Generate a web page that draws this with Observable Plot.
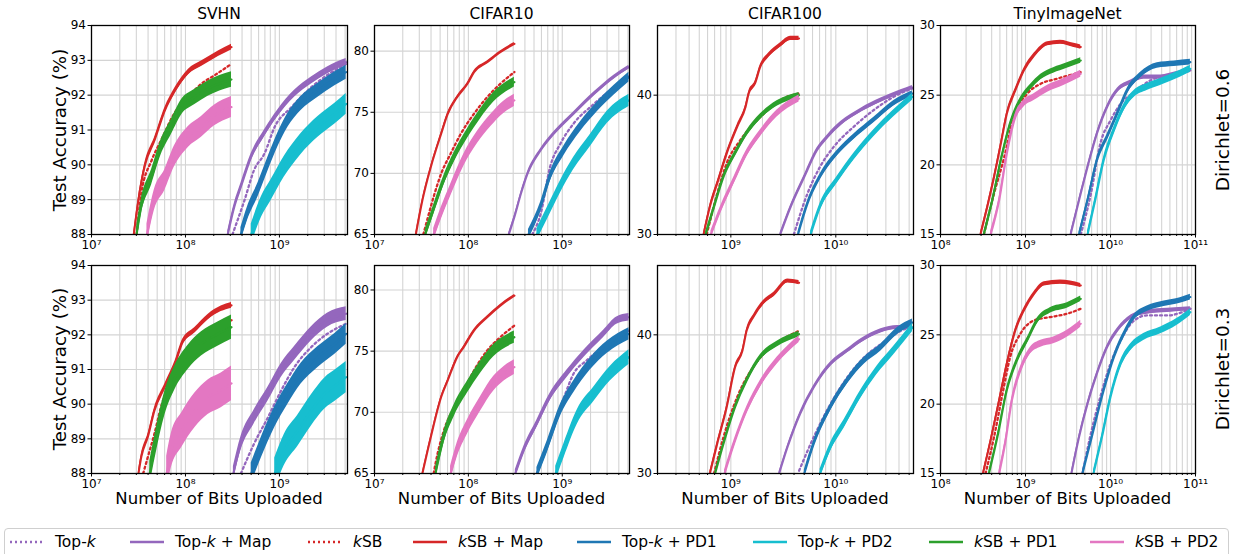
<!DOCTYPE html>
<html><head><meta charset="utf-8">
<script src="https://cdn.jsdelivr.net/npm/d3@7"></script>
<script src="https://cdn.jsdelivr.net/npm/@observablehq/plot@0.6"></script>
<style>
body{margin:0;background:#fff;font-family:"DejaVu Sans",sans-serif;}
#fig{position:relative;width:1235px;height:554px;overflow:hidden;background:#fff;}
.abs{position:absolute;white-space:nowrap;line-height:1;color:#000;}
.c{transform:translate(-50%,-50%);}
.rot{transform:translate(-50%,-50%) rotate(-90deg);}
.pan{position:absolute;}
#legend{position:absolute;left:4px;top:528px;width:1225px;height:40px;border:1px solid #cfcfcf;border-radius:4px;box-sizing:border-box;font-size:15.5px;}
#legend .it{position:absolute;top:4px;display:flex;align-items:center;gap:11px;height:18px;white-space:nowrap;}
</style></head>
<body><div id="fig"><div id="legend"></div></div>
<script>
// ---------- labels ----------
const methods = ["Top-k", "Top-k + Map", "kSB", "kSB + Map", "Top-k + PD1", "Top-k + PD2", "kSB + PD1", "kSB + PD2"];
const methodLabels = ["Top-<i>k</i>", "Top-<i>k</i> + Map", "<i>k</i>SB", "<i>k</i>SB + Map", "Top-<i>k</i> + PD1", "Top-<i>k</i> + PD2", "<i>k</i>SB + PD1", "<i>k</i>SB + PD2"];
const colors = ["#9467bd", "#9467bd", "#d62728", "#d62728", "#1f77b4", "#17becf", "#2ca02c", "#e377c2"];
const dotted = [true, false, true, false, false, false, false, false];
const datasets = ["SVHN", "CIFAR10", "CIFAR100", "TinyImageNet"];
const rowLabels = ["Dirichlet=0.6", "Dirichlet=0.3"];

// axis settings per dataset
const xDomains = [[1e7, 5.3e9], [1e7, 5.2e9], [2e8, 5.5e10], [1e8, 1e11]];
const xTicks = [[1e7, 1e8, 1e9], [1e7, 1e8, 1e9], [1e9, 1e10], [1e8, 1e9, 1e10, 1e11]];
const yDomainsRow1 = [[88, 94], [65, 82.1], [30, 45], [15, 30]];
const yDomainsRow2 = [[88, 94], [65, 82], [30, 45], [15, 30]];
const yTicks = [[88, 89, 90, 91, 92, 93, 94], [65, 70, 75, 80], [30, 40], [15, 20, 25, 30]];

// ---------- data: each series is [log10(bits uploaded), test accuracy %] ----------
// series order follows `methods`
const svhn06 = [
  [[8.50,88.0],[8.63,89.0],[8.73,89.85],[8.84,90.32],[8.95,91.09],[9.13,91.66],[9.34,92.23],[9.71,92.9]],
  [[8.45,88.0],[8.52,88.8],[8.59,89.37],[8.70,90.23],[8.84,90.9],[8.98,91.47],[9.16,92.04],[9.34,92.42],[9.51,92.71],[9.71,92.95]],
  [[7.48,88.0],[7.53,89.18],[7.64,90.13],[7.74,90.7],[7.88,91.47],[8.03,91.95],[8.17,92.33],[8.31,92.57],[8.49,92.9]],
  [[7.45,88.0],[7.50,89.0],[7.57,90.0],[7.67,90.7],[7.78,91.56],[7.89,92.14],[8.03,92.66],[8.17,92.9],[8.35,93.19],[8.49,93.38]],
  [[8.59,88.0],[8.66,88.6],[8.77,89.27],[8.88,90.04],[8.98,90.7],[9.09,91.28],[9.23,91.76],[9.41,92.14],[9.59,92.47],[9.71,92.66]],
  [[8.70,88.0],[8.81,88.8],[8.91,89.27],[9.05,89.94],[9.23,90.6],[9.41,91.09],[9.59,91.47],[9.71,91.75]],
  [[7.48,88.0],[7.53,88.8],[7.64,89.65],[7.74,90.5],[7.85,91.09],[7.96,91.66],[8.10,91.95],[8.24,92.19],[8.49,92.45]],
  [[7.59,88.0],[7.67,89.0],[7.78,89.56],[7.88,90.23],[8.03,90.8],[8.17,91.09],[8.31,91.42],[8.49,91.66]]
];
const cifar10_06 = [
  [[8.68,65.0],[8.77,66.7],[8.87,70.53],[8.98,72.43],[9.12,74.07],[9.34,75.7],[9.55,77.06],[9.71,78.0]],
  [[8.43,65.0],[8.49,66.44],[8.56,68.35],[8.63,69.98],[8.77,71.89],[8.91,73.25],[9.12,74.88],[9.34,76.52],[9.55,77.88],[9.71,78.69]],
  [[7.52,65.0],[7.57,66.44],[7.64,68.35],[7.71,69.98],[7.81,71.6],[7.92,73.25],[8.06,74.88],[8.20,76.24],[8.34,77.33],[8.49,78.29]],
  [[7.44,65.0],[7.51,67.8],[7.60,70.53],[7.71,73.25],[7.78,74.88],[7.88,76.24],[7.99,77.33],[8.06,78.29],[8.20,79.1],[8.34,79.92],[8.49,80.6]],
  [[8.64,65.0],[8.77,67.26],[8.87,69.71],[9.02,71.89],[9.19,73.79],[9.37,75.43],[9.55,76.79],[9.71,77.88]],
  [[8.73,65.0],[8.84,66.7],[8.98,68.9],[9.12,70.8],[9.30,72.7],[9.48,74.6],[9.71,75.97]],
  [[7.54,65.0],[7.64,67.26],[7.74,69.44],[7.85,71.34],[7.99,73.25],[8.13,74.88],[8.27,76.24],[8.49,77.47]],
  [[7.63,65.0],[7.71,66.7],[7.81,68.6],[7.95,71.07],[8.10,72.98],[8.24,74.34],[8.38,75.43],[8.49,75.97]]
];
const cifar100_06 = [
  [[9.60,30.0],[9.73,32.94],[9.85,34.86],[9.98,36.29],[10.17,37.73],[10.36,38.92],[10.55,39.88],[10.73,40.48]],
  [[9.47,30.0],[9.57,31.99],[9.70,34.14],[9.82,36.05],[9.92,37.0],[10.05,37.97],[10.24,38.92],[10.43,39.64],[10.62,40.24],[10.73,40.55]],
  [[8.77,30.0],[8.87,32.94],[8.96,35.1],[9.09,36.77],[9.22,37.97],[9.35,38.92],[9.50,39.76],[9.65,40.12]],
  [[8.74,30.0],[8.80,31.99],[8.88,33.9],[8.96,35.81],[9.06,37.73],[9.14,39.16],[9.17,40.12],[9.23,40.84],[9.28,42.03],[9.36,42.87],[9.47,43.59],[9.57,44.07],[9.65,44.07]],
  [[9.64,30.0],[9.73,32.22],[9.85,34.14],[10.01,35.81],[10.17,37.0],[10.36,38.2],[10.55,39.4],[10.73,40.12]],
  [[9.76,30.0],[9.85,31.99],[10.01,33.9],[10.17,35.57],[10.36,37.25],[10.55,38.68],[10.73,39.88]],
  [[8.76,30.0],[8.84,31.99],[8.93,34.14],[9.04,35.81],[9.15,37.25],[9.28,38.44],[9.44,39.4],[9.65,40.0]],
  [[8.81,30.0],[8.90,31.75],[9.03,33.9],[9.15,35.81],[9.28,37.25],[9.44,38.68],[9.65,39.76]]
];
const tiny06 = [
  [[9.65,15.0],[9.77,17.94],[9.88,21.52],[10.0,23.19],[10.12,24.39],[10.28,25.22],[10.47,26.06],[10.67,26.42],[10.94,26.89]],
  [[9.53,15.0],[9.63,17.46],[9.73,19.85],[9.84,22.24],[9.96,24.15],[10.08,25.34],[10.24,25.94],[10.39,26.3],[10.59,26.3],[10.78,26.54],[10.94,26.77]],
  [[8.51,15.0],[8.63,17.94],[8.75,20.56],[8.86,23.43],[9.02,25.1],[9.18,25.82],[9.37,26.18],[9.65,26.65]],
  [[8.47,15.0],[8.55,16.98],[8.63,19.13],[8.71,21.52],[8.78,23.67],[8.88,25.34],[8.98,26.77],[9.10,27.85],[9.26,28.69],[9.41,28.8],[9.57,28.57],[9.65,28.45]],
  [[9.63,15.0],[9.73,17.46],[9.84,20.33],[9.96,22.0],[10.08,23.67],[10.20,25.34],[10.35,26.42],[10.55,27.13],[10.75,27.25],[10.94,27.37]],
  [[9.73,15.0],[9.82,17.46],[9.92,20.33],[10.04,22.48],[10.16,24.15],[10.28,25.1],[10.43,25.58],[10.63,26.06],[10.82,26.54],[10.94,26.89]],
  [[8.51,15.0],[8.61,17.46],[8.71,20.33],[8.82,22.95],[8.94,24.63],[9.06,25.58],[9.18,26.3],[9.33,26.77],[9.49,27.13],[9.65,27.49]],
  [[8.59,15.0],[8.69,17.46],[8.78,20.8],[8.88,23.43],[8.98,24.39],[9.10,24.86],[9.26,25.46],[9.45,25.94],[9.65,26.54]]
];
const svhn03 = [
  [[8.59,88.0],[8.73,88.86],[8.88,89.63],[9.02,90.4],[9.16,91.07],[9.34,91.65],[9.51,92.03],[9.71,92.32]],
  [[8.51,88.0],[8.59,88.86],[8.73,89.63],[8.88,90.3],[9.02,90.98],[9.16,91.46],[9.34,92.03],[9.51,92.42],[9.71,92.61]],
  [[7.55,88.0],[7.60,88.48],[7.67,89.15],[7.74,89.92],[7.85,90.69],[7.96,91.26],[8.10,91.74],[8.24,92.08],[8.49,92.42]],
  [[7.50,88.0],[7.53,88.48],[7.60,89.06],[7.67,89.82],[7.78,90.5],[7.89,91.17],[7.97,91.79],[8.10,92.13],[8.24,92.51],[8.38,92.75],[8.49,92.85]],
  [[8.70,88.0],[8.81,88.77],[8.95,89.63],[9.09,90.3],[9.23,90.88],[9.41,91.36],[9.59,91.74],[9.71,92.03]],
  [[8.95,88.0],[9.05,88.67],[9.20,89.25],[9.34,89.82],[9.48,90.3],[9.62,90.59],[9.71,90.78]],
  [[7.62,88.0],[7.69,88.96],[7.78,90.02],[7.89,90.78],[8.03,91.36],[8.17,91.74],[8.35,92.03],[8.49,92.22]],
  [[7.80,88.0],[7.85,88.67],[7.96,89.25],[8.10,89.82],[8.24,90.2],[8.38,90.4],[8.49,90.6]]
];
const cifar10_03 = [
  [[8.73,65.0],[8.87,67.99],[9.02,71.25],[9.12,73.15],[9.26,74.24],[9.48,75.6],[9.71,76.68]],
  [[8.50,65.0],[8.59,66.9],[8.73,69.08],[8.87,71.25],[9.05,73.15],[9.23,74.78],[9.44,76.41],[9.58,77.5],[9.71,77.77]],
  [[7.63,65.0],[7.65,65.82],[7.74,68.53],[7.85,70.43],[7.95,71.79],[8.06,73.42],[8.20,75.05],[8.34,76.14],[8.49,77.09]],
  [[7.51,65.0],[7.60,67.99],[7.71,71.25],[7.78,72.61],[7.88,74.51],[7.95,75.33],[8.06,76.68],[8.20,77.77],[8.34,78.72],[8.49,79.54]],
  [[8.73,65.0],[8.84,67.17],[8.98,70.16],[9.12,72.07],[9.30,73.97],[9.48,75.33],[9.71,76.41]],
  [[8.93,65.0],[9.02,66.9],[9.16,69.62],[9.34,71.52],[9.51,73.15],[9.71,74.51]],
  [[7.65,65.0],[7.74,67.99],[7.85,70.16],[7.99,72.07],[8.13,73.7],[8.27,75.05],[8.49,76.14]],
  [[7.81,65.0],[7.88,66.9],[7.99,68.8],[8.13,70.7],[8.27,72.34],[8.38,73.15],[8.49,73.7]]
];
const cifar100_03 = [
  [[9.65,30.2],[9.79,32.63],[9.95,35.02],[10.11,36.94],[10.27,38.37],[10.43,39.33],[10.62,40.29],[10.73,40.65]],
  [[9.46,30.0],[9.54,31.91],[9.66,34.31],[9.79,36.22],[9.95,37.89],[10.11,38.85],[10.24,39.57],[10.43,40.29],[10.59,40.53],[10.73,40.53]],
  [[8.84,30.0],[8.93,32.63],[9.06,35.5],[9.19,37.42],[9.31,38.61],[9.47,39.57],[9.65,40.29]],
  [[8.80,30.0],[8.87,32.15],[8.96,34.78],[9.04,37.66],[9.11,38.85],[9.15,40.29],[9.22,41.36],[9.31,42.32],[9.41,42.92],[9.54,43.88],[9.65,43.76]],
  [[9.70,30.0],[9.79,32.15],[9.95,34.78],[10.11,36.7],[10.27,38.13],[10.43,39.09],[10.59,40.29],[10.73,40.89]],
  [[9.85,30.0],[9.95,31.91],[10.08,33.59],[10.24,35.74],[10.39,37.42],[10.55,38.85],[10.73,40.53]],
  [[8.85,30.0],[8.93,32.15],[9.04,34.78],[9.15,36.7],[9.28,38.37],[9.44,39.33],[9.65,40.05]],
  [[8.94,30.0],[9.03,32.15],[9.15,34.55],[9.28,36.46],[9.44,38.13],[9.65,39.69]]
];
const tiny03 = [
  [[9.67,15.0],[9.76,17.64],[9.88,20.52],[10.0,22.92],[10.12,24.6],[10.28,26.04],[10.43,26.4],[10.67,26.4],[10.94,26.88]],
  [[9.54,15.0],[9.63,17.64],[9.73,20.04],[9.84,22.2],[9.96,24.12],[10.08,25.32],[10.24,26.28],[10.43,26.64],[10.67,26.76],[10.94,26.88]],
  [[8.53,15.0],[8.63,17.64],[8.73,20.76],[8.82,23.4],[8.94,25.08],[9.10,26.04],[9.29,26.28],[9.49,26.52],[9.65,26.88]],
  [[8.50,15.0],[8.59,17.4],[8.69,20.28],[8.78,22.92],[8.88,25.32],[8.98,26.76],[9.10,27.96],[9.22,28.68],[9.41,28.8],[9.65,28.56]],
  [[9.67,15.0],[9.78,17.64],[9.92,21.0],[10.04,23.4],[10.16,25.08],[10.28,26.28],[10.43,26.88],[10.63,27.24],[10.82,27.48],[10.94,27.72]],
  [[9.80,15.0],[9.90,17.64],[10.0,20.52],[10.12,22.92],[10.24,24.12],[10.39,24.84],[10.59,25.32],[10.78,25.92],[10.94,26.64]],
  [[8.57,15.0],[8.67,17.64],[8.78,21.0],[8.90,23.16],[9.02,24.6],[9.14,26.04],[9.29,26.76],[9.49,27.12],[9.65,27.6]],
  [[8.69,15.0],[8.76,17.16],[8.84,20.28],[8.94,22.44],[9.06,23.88],[9.18,24.36],[9.33,24.6],[9.49,25.08],[9.65,25.8]]
];
// half-amplitude of the round-to-round noise of each series (accuracy %)
const noise_svhn06 = [0, 0.1, 0, 0.08, 0.2, 0.3, 0.22, 0.3];
const noise_cifar10_06 = [0, 0.15, 0, 0.1, 0.4, 0.5, 0.4, 0.5];
const noise_cifar100_06 = [0, 0.15, 0, 0.15, 0.2, 0.25, 0.2, 0.25];
const noise_tiny06 = [0, 0.15, 0, 0.15, 0.2, 0.25, 0.2, 0.25];
const noise_svhn03 = [0, 0.2, 0, 0.08, 0.3, 0.45, 0.35, 0.5];
const noise_cifar10_03 = [0, 0.3, 0, 0.1, 0.5, 0.6, 0.5, 0.6];
const noise_cifar100_03 = [0, 0.15, 0, 0.15, 0.25, 0.3, 0.2, 0.25];
const noise_tiny03 = [0, 0.15, 0, 0.15, 0.2, 0.25, 0.2, 0.25];

// ---------- layout ----------
const fig = document.getElementById("fig");
const colLeft = [91, 374, 657, 940], colW = [256, 255, 256, 255];
const rowTop = [25, 265], rowH = [209, 208];
const ML = 40, MR = 14, MT = 8, MB = 26;
const legendX = [10, 130, 308, 413, 577, 753, 929, 1090];
const supMap = {"0":"⁰","1":"¹","2":"²","3":"³","4":"⁴","5":"⁵","6":"⁶","7":"⁷","8":"⁸","9":"⁹"};
const supFmt = v => "10" + String(Math.round(Math.log10(v))).split("").map(c => supMap[c]).join("");

function minorGrid(dom) {
  const out = [];
  for (let e = Math.floor(Math.log10(dom[0])); e <= Math.ceil(Math.log10(dom[1])); e++)
    for (let k = 1; k <= 9; k++) { const v = k * 10 ** e; if (v >= dom[0] * 0.999 && v <= dom[1] * 1.001) out.push(v); }
  return out;
}

function panel(series, noise, c, r) {
  const xDom = xDomains[c], yDom = (r === 0 ? yDomainsRow1 : yDomainsRow2)[c];
  const grid = minorGrid(xDom);
  const minorOnly = grid.filter(v => !xTicks[c].includes(v));
  const marks = [
    Plot.ruleX(grid, {stroke: "#d4d4d4", strokeWidth: 1.1}),
    Plot.ruleY(yTicks[c], {stroke: "#d4d4d4", strokeWidth: 1.1})
  ];
  series.forEach((pts, i) => {
    const d = pts.map(([lx, y]) => ({method: methods[i], x: 10 ** lx, y, lo: y - noise[i], hi: y + noise[i]}));
    if (dotted[i]) {
      marks.push(Plot.line(d, {x: "x", y: "y", stroke: colors[i], strokeWidth: 2.3, strokeDasharray: "2,3", curve: "monotone-x", clip: true}));
    } else {
      if (noise[i] > 0) marks.push(Plot.areaY(d, {x: "x", y1: "lo", y2: "hi", fill: colors[i], curve: "monotone-x", clip: true}));
      marks.push(Plot.line(d, {x: "x", y: "y", stroke: colors[i], strokeWidth: 2.1, curve: "monotone-x", clip: true}));
    }
  });
  marks.push(Plot.frame({stroke: "#000", strokeWidth: 1.3}));
  marks.push(Plot.axisX(xTicks[c], {tickSize: 3.5, tickPadding: 2, tickFormat: supFmt, label: null, fontSize: 12}));
  marks.push(Plot.axisX(minorOnly, {tickSize: 2, tickFormat: () => "", label: null}));
  marks.push(Plot.axisY(yTicks[c], {tickSize: 3.5, tickPadding: 2, label: null, fontSize: 12}));
  const svg = Plot.plot({
    width: colW[c] + ML + MR, height: rowH[r] + MT + MB,
    marginLeft: ML, marginRight: MR, marginTop: MT, marginBottom: MB,
    x: {type: "log", domain: xDom},
    y: {domain: yDom},
    style: {fontFamily: "DejaVu Sans", fontSize: "12px", color: "#000", background: "transparent", overflow: "visible"},
    marks
  });
  const wrap = document.createElement("div");
  wrap.className = "pan";
  wrap.style.left = (colLeft[c] - ML) + "px";
  wrap.style.top = (rowTop[r] - MT) + "px";
  wrap.appendChild(svg);
  fig.appendChild(wrap);
}

const panels = [
  [svhn06, noise_svhn06, 0, 0], [cifar10_06, noise_cifar10_06, 1, 0], [cifar100_06, noise_cifar100_06, 2, 0], [tiny06, noise_tiny06, 3, 0],
  [svhn03, noise_svhn03, 0, 1], [cifar10_03, noise_cifar10_03, 1, 1], [cifar100_03, noise_cifar100_03, 2, 1], [tiny03, noise_tiny03, 3, 1]
];
panels.forEach(([s, n, c, r]) => panel(s, n, c, r));

function addText(txt, x, y, size, cls) {
  const d = document.createElement("div");
  d.className = "abs " + cls;
  d.style.left = x + "px"; d.style.top = y + "px"; d.style.fontSize = size + "px";
  d.innerHTML = txt;
  fig.appendChild(d);
}
datasets.forEach((t, c) => {
  addText(t, colLeft[c] + colW[c] / 2, 15, 15.5, "c");
  addText("Number of Bits Uploaded", colLeft[c] + colW[c] / 2, 499, 16.5, "c");
});
addText("Test Accuracy (%)", 60, rowTop[0] + rowH[0] / 2, 18.3, "rot");
addText("Test Accuracy (%)", 60, rowTop[1] + rowH[1] / 2, 18.3, "rot");
addText(rowLabels[0], 1223, rowTop[0] + rowH[0] / 2, 18.5, "rot");
addText(rowLabels[1], 1223, rowTop[1] + rowH[1] / 2, 18.5, "rot");

// legend
const leg = document.getElementById("legend");
methods.forEach((m, i) => {
  const it = document.createElement("div");
  it.className = "it";
  it.style.left = (legendX[i] - 5) + "px";
  const dash = dotted[i] ? 'stroke-dasharray="2,3"' : "";
  it.innerHTML = `<svg width="34" height="10"><line x1="0" y1="5" x2="34" y2="5" stroke="${colors[i]}" stroke-width="2.4" ${dash}/></svg><span>${methodLabels[i]}</span>`;
  leg.appendChild(it);
});
</script>
</body></html>
